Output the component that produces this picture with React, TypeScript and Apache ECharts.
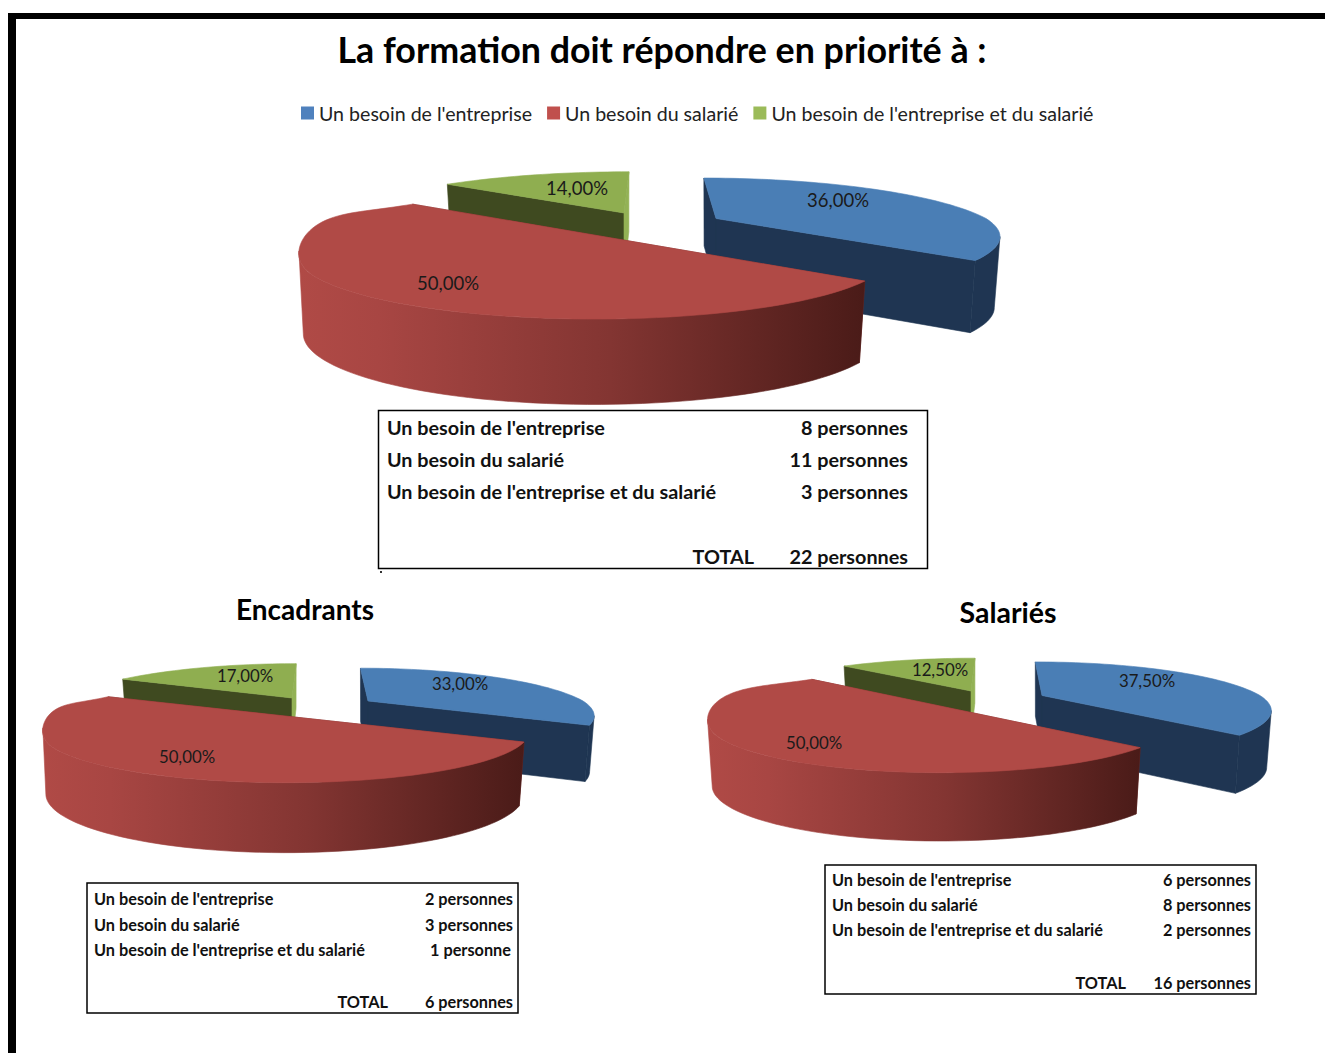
import React, { useEffect, useRef } from "react";
import * as echarts from "echarts";

const mainTitle = "La formation doit répondre en priorité à :";
const pieTitles = ["Encadrants", "Salariés"];
const categories = ["Un besoin de l'entreprise", "Un besoin du salarié", "Un besoin de l'entreprise et du salarié"];
const besoinEntreprise = [36, 33, 37.5];
const besoinSalarie = [50, 50, 50];
const besoinLesDeux = [14, 17, 12.5];
const seriesValues = [besoinEntreprise, besoinSalarie, besoinLesDeux];
const countsEnsemble = ["8 personnes", "11 personnes", "3 personnes", "22 personnes"];
const countsEncadrants = ["2 personnes", "3 personnes", "1 personne", "6 personnes"];
const countsSalaries = ["6 personnes", "8 personnes", "2 personnes", "16 personnes"];
const totalLabel = "TOTAL";

const FONT = "Lato";
const K = 0.31;
// slice geometry per pie, per category: projected centre, radii, shear, depth, rounding of the back-left arc
const GEOM = [
  [
    { ax: 716, ay: 218.5, rx: 270, ry: 53, shear: 0.3, dz: 70, ys: 1.05, bulge: 0, pinch: 0 },
    { ax: 594, ay: 235, rx: 282, ry: 58, shear: 0, dz: 77, ys: 1.1, bulge: 9, pinch: 0.012 },
    { ax: 624, ay: 213, rx: 280, ry: 54, shear: -0.12, dz: 60, ys: 1, bulge: 0, pinch: 0 },
  ],
  [
    { ax: 368, ay: 701, rx: 215, ry: 43, shear: 0.23, dz: 55, ys: 1.05, bulge: 0, pinch: 0 },
    { ax: 285, ay: 716, rx: 232, ry: 46, shear: 0, dz: 60, ys: 1.15, bulge: 7, pinch: 0.014 },
    { ax: 292, ay: 698, rx: 225, ry: 45, shear: -0.12, dz: 45, ys: 1, bulge: 0, pinch: 0 },
  ],
  [
    { ax: 1042, ay: 695.5, rx: 218, ry: 44, shear: 0.2, dz: 56, ys: 1.05, bulge: 0, pinch: 0 },
    { ax: 940, ay: 706, rx: 221, ry: 46, shear: 0, dz: 63, ys: 1.08, bulge: 6, pinch: 0 },
    { ax: 971, ay: 691, rx: 224, ry: 43, shear: -0.12, dz: 45, ys: 1, bulge: 0, pinch: 0 },
  ],
];
const LABEL_POS = [
  [[838, 200], [448, 283], [577, 188]],
  [[460, 683], [187, 756], [245, 675]],
  [[1147, 680], [814, 742], [940, 669]],
];
const LABEL_FONT = [18.5, 16.8, 16.8];
const TOP = ["#4A7EB5", "#B04A46", "#8FAE50"];
const SIDE = ["#1F3552", "#7A2F2B", "#3F4A20"];
const END_WALL = ["#1F3552", "#7A2F2B", "#93B255"];
const LEGEND_COLORS = ["#4F81BD", "#C0504D", "#9BBB59"];
const ROUND_FROM = 235;

function project(g: any, deg: number, bottom: boolean) {
  const t = (deg * Math.PI) / 180;
  const w = 1 + K * Math.cos(t);
  let X = (g.rx * Math.sin(t)) / w;
  let Y = (-g.ry * Math.cos(t)) / w;
  if (Y < 0) X += g.shear * Y;
  if (!bottom && g.bulge && g.hi && deg > ROUND_FROM && deg < g.hi) {
    const s = Math.sin((Math.PI * (deg - ROUND_FROM)) / (g.hi - ROUND_FROM));
    Y -= g.bulge * s * s;
    X *= 1 - g.pinch * s * s;
  }
  return bottom ? [g.ax + X * 0.98, g.ay + g.dz + Y * g.ys] : [g.ax + X, g.ay + Y];
}
function arc(g: any, a: number, b: number, bottom: boolean) {
  const n = Math.max(2, Math.ceil(Math.abs(b - a) / 2));
  const pts: number[][] = [];
  for (let i = 0; i <= n; i++) pts.push(project(g, a + ((b - a) * i) / n, bottom));
  return pts;
}

function renderSlice(cat: number) {
  return (params: any, api: any) => {
    const pie = params.dataIndex;
    const total = seriesValues.reduce((s, v) => s + v[pie], 0);
    let before = 0;
    for (let i = 0; i < cat; i++) before += seriesValues[i][pie];
    const value = api.value(0);
    const start = (before / total) * 360;
    const end = ((before + value) / total) * 360;
    const g = { ...GEOM[pie][cat], hi: end };
    const apex = [g.ax, g.ay];
    const apexB = [g.ax, g.ay + g.dz];
    const children: any[] = [];
    const wall = (deg: number, fill: string) => ({
      type: "polygon",
      shape: { points: [apex, project(g, deg, false), project(g, deg, true), apexB] },
      style: { fill, stroke: fill, lineWidth: 0.6 },
    });
    children.push(wall(start, SIDE[cat]));
    children.push(wall(end, END_WALL[cat]));
    const a = Math.max(start, 108);
    const b = Math.min(end, 252);
    if (b > a) {
      const fill =
        cat === 1
          ? new echarts.graphic.LinearGradient(0, 0, 1, 0, [
              { offset: 0, color: "#B04A46" },
              { offset: 0.14, color: "#A84643" },
              { offset: 0.55, color: "#833532" },
              { offset: 1, color: "#4A1B18" },
            ])
          : SIDE[cat];
      children.push({
        type: "polygon",
        shape: { points: [...arc(g, a, b, false), ...arc(g, b, a, true)] },
        style: { fill, stroke: fill, lineWidth: 0.6 },
      });
    }
    children.push({
      type: "polygon",
      shape: { points: [apex, ...arc(g, start, end, false)] },
      style: { fill: TOP[cat], stroke: TOP[cat], lineWidth: 0.6 },
    });
    const p = LABEL_POS[pie][cat];
    children.push({
      type: "text",
      x: p[0],
      y: p[1],
      style: {
        text: value.toFixed(2).replace(".", ",") + "%",
        fill: "#1a1a1a",
        font: `${LABEL_FONT[pie]}px ${FONT}`,
        align: "center",
        verticalAlign: "middle",
      },
    });
    return { type: "group", children };
  };
}

function tableGraphic(box: any, counts: string[]) {
  const font = `bold ${box.fs}px ${FONT}`;
  const els: any[] = [
    {
      type: "rect",
      shape: { x: box.x, y: box.y, width: box.w, height: box.h },
      style: { fill: "#fff", stroke: "#000", lineWidth: 1.5 },
    },
  ];
  const text = (t: string, x: number, y: number, align: string) => ({
    type: "text",
    x,
    y,
    style: { text: t, fill: "#111", font, align, verticalAlign: "middle" },
  });
  categories.forEach((c, i) => {
    els.push(text(c, box.left, box.rows[i], "left"));
    els.push(text(counts[i], box.right - (box.oneOff && counts[i] === "1 personne" ? 2 : 0), box.rows[i], "right"));
  });
  els.push(text(totalLabel, box.totalRight, box.rows[3], "right"));
  els.push(text(counts[3], box.right, box.rows[3], "right"));
  return els;
}

export default function App() {
  const ref = useRef<HTMLDivElement>(null);
  useEffect(() => {
    document.body.style.margin = "0";
    const chart = echarts.init(ref.current!, undefined, { renderer: "svg" });
    const order = [0, 2, 1];
    chart.setOption({
      animation: false,
      backgroundColor: "#fff",
      textStyle: { fontFamily: FONT },
      title: [
        { text: mainTitle, left: 657, top: 44, textAlign: "center", textVerticalAlign: "middle", textStyle: { fontFamily: FONT, fontSize: 35.8, fontWeight: "bold", color: "#000" } },
        { text: pieTitles[0], left: 300, top: 604, textAlign: "center", textVerticalAlign: "middle", textStyle: { fontFamily: FONT, fontSize: 28, fontWeight: "bold", color: "#000" } },
        { text: pieTitles[1], left: 1003, top: 607, textAlign: "center", textVerticalAlign: "middle", textStyle: { fontFamily: FONT, fontSize: 28.5, fontWeight: "bold", color: "#000" } },
      ],
      legend: {
        data: categories,
        left: 296,
        top: 98,
        orient: "horizontal",
        itemWidth: 13,
        itemHeight: 13,
        itemGap: 15,
        icon: "rect",
        textStyle: { fontFamily: FONT, fontSize: 19.6, color: "#222" },
      },
      graphic: [
        { type: "rect", z: 10, shape: { x: 8, y: 13, width: 1317, height: 6 }, style: { fill: "#000" } },
        { type: "rect", z: 10, shape: { x: 8, y: 13, width: 8, height: 1040 }, style: { fill: "#000" } },
        { type: "rect", z: 10, shape: { x: 380, y: 571, width: 2, height: 2 }, style: { fill: "#333" } },
        ...tableGraphic({ x: 378.5, y: 410.5, w: 549, h: 158, fs: 19.8, left: 387, right: 908, totalRight: 754, rows: [427, 459, 491, 556] }, countsEnsemble),
        ...tableGraphic({ x: 87, y: 883, w: 431, h: 130, fs: 16.3, left: 94, right: 513, totalRight: 388, oneOff: true, rows: [898, 924, 949, 1001] }, countsEncadrants),
        ...tableGraphic({ x: 825, y: 865, w: 431, h: 129, fs: 16.3, left: 832, right: 1251, totalRight: 1126, rows: [879, 904, 929, 982] }, countsSalaries),
      ],
      series: order.map((cat) => ({
        type: "custom",
        name: categories[cat],
        coordinateSystem: "none",
        itemStyle: { color: LEGEND_COLORS[cat] },
        data: seriesValues[cat].map((v) => [v]),
        renderItem: renderSlice(cat),
        silent: true,
      })),
    });
    return () => chart.dispose();
  }, []);
  return <div ref={ref} style={{ position: "absolute", left: 0, top: 0, width: 1325, height: 1053 }} />;
}
